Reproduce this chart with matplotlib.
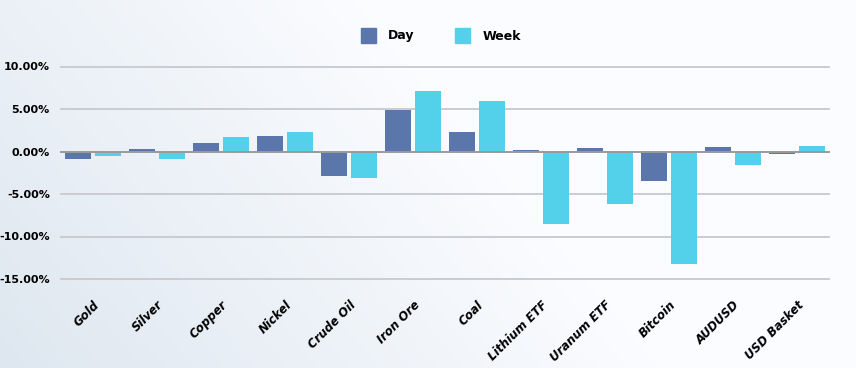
import numpy as np
import matplotlib.pyplot as plt
from matplotlib.patches import Rectangle

plt.rcParams['font.family'] = ['DejaVu Sans']

categories = ['Gold', 'Silver', 'Copper', 'Nickel', 'Crude Oil', 'Iron Ore', 'Coal',
              'Lithium ETF', 'Uranum ETF', 'Bitcoin', 'AUDUSD', 'USD Basket']
day = [-0.92, 0.30, 0.96, 1.82, -2.85, 4.84, 2.30, 0.20, 0.40, -3.50, 0.49, -0.33]
week = [-0.53, -0.85, 1.75, 2.33, -3.12, 7.10, 5.90, -8.53, -6.18, -13.24, -1.59, 0.65]
yticks = [10, 5, 0, -5, -10, -15]

day_color = '#5a76ab'
week_color = '#53d0ea'

fig = plt.figure(figsize=(8.56, 3.68), dpi=100)

# background gradient
bg = fig.add_axes([0, 0, 1, 1], zorder=-10)
xx, yy = np.meshgrid(np.linspace(0, 1, 300), np.linspace(0, 1, 150))
t = np.clip(1 - (xx * 1.4 + (1 - yy) * 0.5) / 1.1, 0, 1)
c0 = np.array([0.985, 0.99, 1.0])
c1 = np.array([0.87, 0.905, 0.94])
img = c0[None, None, :] * (1 - t[..., None]) + c1[None, None, :] * t[..., None]
bg.imshow(img, aspect='auto', extent=[0, 1, 0, 1], origin='upper')
bg.set_xlim(0, 1)
bg.set_ylim(0, 1)
bg.axis('off')

ax = fig.add_axes([61 / 856, 1 - 279 / 368, 768 / 856, 212.5 / 368])
ax.patch.set_alpha(0)
x = np.arange(len(categories))
ax.bar(x - 0.234, day, width=0.42, color=day_color, zorder=3)
ax.bar(x + 0.234, week, width=0.42, color=week_color, zorder=3)

for v in yticks:
    ax.axhline(v, color='#9a9a9a' if v == 0 else '#c9ccd0', lw=1.4, zorder=1 if v else 4,
               clip_on=False)

ax.set_xlim(-0.5, len(categories) - 0.5)
ax.set_ylim(-15, 10)
ax.set_yticks(yticks)
ax.set_yticklabels([f'{v:.2f}%' for v in yticks], fontsize=8, fontweight='bold')
ax.set_xticks(x)
ax.set_xticklabels(categories, rotation=45, ha='right', rotation_mode='anchor',
                   fontsize=8.5, fontweight='bold', style='italic')
ax.tick_params(axis='both', length=0)
ax.tick_params(axis='y', pad=8)
ax.tick_params(axis='x', pad=14)
for s in ax.spines.values():
    s.set_visible(False)

# legend
fig.patches.append(Rectangle((361 / 856, 1 - 43 / 368), 15 / 856, 15 / 368,
                             transform=fig.transFigure, color=day_color))
fig.text(388 / 856, 1 - 36 / 368, 'Day', fontsize=9, fontweight='bold', va='center')
fig.patches.append(Rectangle((455 / 856, 1 - 43 / 368), 15 / 856, 15 / 368,
                             transform=fig.transFigure, color=week_color))
fig.text(483 / 856, 1 - 36 / 368, 'Week', fontsize=9, fontweight='bold', va='center')

fig.savefig('out.png', dpi=100)
